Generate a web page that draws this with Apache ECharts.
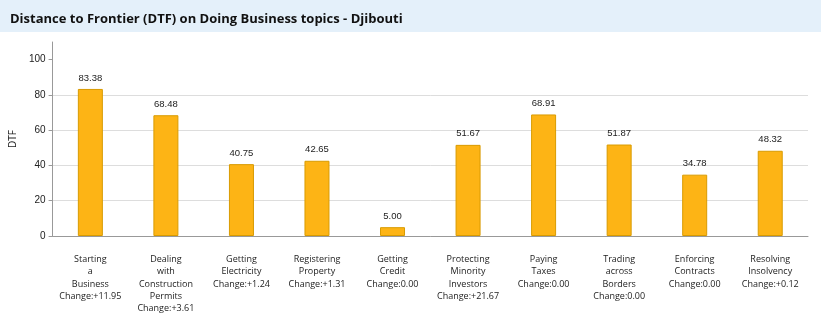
<!DOCTYPE html>
<html>
<head>
<meta charset="utf-8">
<script src="https://cdn.jsdelivr.net/npm/echarts@6/dist/echarts.min.js"></script>
<style>
  html, body { margin: 0; padding: 0; background: #fff; }
  #chart { width: 821px; height: 322px; }
</style>
</head>
<body>
<div id="chart"></div>
<script>
const topics = [
  'Starting\na\nBusiness',
  'Dealing\nwith\nConstruction\nPermits',
  'Getting\nElectricity',
  'Registering\nProperty',
  'Getting\nCredit',
  'Protecting\nMinority\nInvestors',
  'Paying\nTaxes',
  'Trading\nacross\nBorders',
  'Enforcing\nContracts',
  'Resolving\nInsolvency'
]
const changes = ['+11.95', '+3.61', '+1.24', '+1.31', '0.00', '+21.67', '0.00', '0.00', '0.00', '+0.12']
const dtfValues = [83.38, 68.48, 40.75, 42.65, 5.00, 51.67, 68.91, 51.87, 34.78, 48.32]
const yTicks = [0, 20, 40, 60, 80, 100]

const categories = topics.map((t, i) => `${t}\nChange:${changes[i]}`)

const chart = echarts.init(document.getElementById('chart'))
const option = {
  animation: false,
  title: {
    text: 'Distance to Frontier (DTF) on Doing Business topics - Djibouti',
    left: 5,
    top: 8,
    textStyle: {
      fontFamily: 'Open Sans',
      fontWeight: 'bold',
      fontSize: 13,
      color: '#111'
    }
  },
  graphic: [
    {
      type: 'rect',
      z: -10,
      shape: { x: 0, y: 0, width: 821, height: 32 },
      style: { fill: '#e4f0fa' }
    }
  ],
  grid: {
    left: 52,
    right: 13,
    top: 42,
    bottom: 86
  },
  xAxis: {
    type: 'category',
    data: categories,
    axisLine: { lineStyle: { color: '#999' } },
    axisTick: { length: 5, lineStyle: { color: '#999' } },
    axisLabel: {
      interval: 0,
      margin: 17,
      fontFamily: 'Open Sans',
      fontSize: 9,
      lineHeight: 12.4,
      color: '#222'
    }
  },
  yAxis: {
    type: 'value',
    min: 0,
    max: 110,
    interval: 20,
    name: 'DTF',
    nameLocation: 'middle',
    nameGap: 33,
    nameTextStyle: { fontFamily: 'Open Sans', fontSize: 10, color: '#222' },
    axisLine: { show: true, lineStyle: { color: '#999' } },
    axisTick: { show: true, length: 4, customValues: yTicks, lineStyle: { color: '#999' } },
    axisLabel: {
      customValues: yTicks,
      fontFamily: 'Liberation Sans',
      fontSize: 10,
      color: '#222',
      margin: 7
    },
    splitLine: { showMaxLine: false, lineStyle: { color: '#ddd' } }
  },
  series: [
    {
      type: 'bar',
      data: dtfValues,
      barWidth: 25,
      itemStyle: {
        color: '#fdb415',
        borderColor: '#d99b00',
        borderWidth: 1
      },
      label: {
        show: true,
        position: 'top',
        distance: 6,
        formatter: p => p.value.toFixed(2),
        fontFamily: 'Liberation Sans',
        fontSize: 9.5,
        color: '#222'
      }
    }
  ]
}
chart.setOption(option)
window.onresize = function() {
  chart.resize()
}
</script>
</body>
</html>
